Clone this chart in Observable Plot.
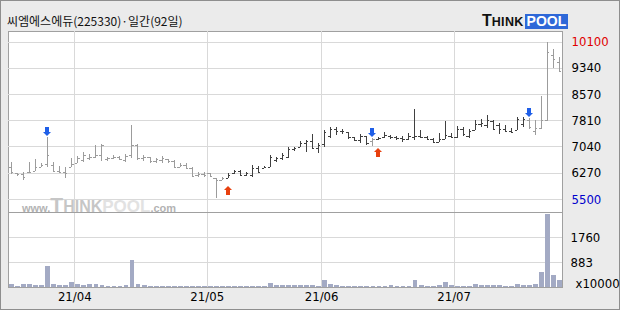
<!DOCTYPE html>
<html><head><meta charset="utf-8">
<script src="https://cdn.jsdelivr.net/npm/d3@7"></script>
<script src="https://cdn.jsdelivr.net/npm/@observablehq/plot@0.6"></script>
<style>
html,body{margin:0;padding:0;background:#fff;}
#wrap{position:relative;width:620px;height:310px;background:#ebebeb;box-shadow:inset 0 0 0 1px #8e8e8e;overflow:hidden;}
#title{position:absolute;left:7px;top:15px;font:12px/12px "Noto Sans CJK KR",sans-serif;color:#111;white-space:nowrap;}
#price,#volume{position:absolute;left:0;}
#price{top:31px}
#volume{top:212px}
#logo{position:absolute;left:482px;top:12px;height:16px;white-space:nowrap;font-family:"Liberation Sans",Arial,sans-serif;font-weight:bold;}
#logo .t{font-size:16px;color:#111;}
#logo .k{font-size:12.5px;color:#111;letter-spacing:0.3px;}
#logo .p{display:inline-block;font-size:14px;color:#fff;background:#2e68d8;padding:0 2px;line-height:15px;margin-left:1px;}
#wm{position:absolute;left:22px;top:193px;white-space:nowrap;font-family:"Liberation Sans",Arial,sans-serif;}
#wm .s{font-size:11px;color:#b3b3b3;font-weight:bold;}
#wm .t{font-size:21px;color:#c6c6c6;font-weight:bold;}
#wm .k{font-size:16px;color:#c6c6c6;font-weight:bold;}
#wm .p{font-size:17px;color:#e2e2e2;font-weight:bold;}
</style></head>
<body>
<div id="wrap">
  <div id="title">씨엠에스에듀(225330)·일간(92일)</div>
  <div id="logo"><span class="t">T</span><span class="k">HINK</span><span class="p">POOL</span></div>
  <div id="price"></div>
  <div id="volume"></div>
  <div id="wm"><span class="s">www.</span><span class="t">T</span><span class="k">HINK</span><span class="p">POOL</span><span class="s">.com</span></div>
</div>
<script>
// ---- data (prices in KRW, volume in x10000 shares) ----
const monthLabels = ["21/04", "21/05", "21/06", "21/07"];
const monthStartIdx = [11, 33, 52, 74];
const priceTicks = [5500, 6270, 7040, 7810, 8570, 9340, 10100];
const volumeTicks = [883, 1760];
const volumeUnit = "x10000";
const sellSignals = [6, 60, 86];
const buySignals = [36, 61];

const open = [6450,6260,6240,6280,6330,6450,6520,6500,6330,6280,6430,6540,6650,6700,6720,6800,6680,6700,6720,6650,
  6800,7090,6700,6720,6620,6640,6660,6620,6450,6500,6420,6200,6230,6250,6100,6060,6120,6250,6330,6200,
  6200,6420,6400,6440,6640,6700,6740,6960,7020,7150,7200,7000,7100,7350,7560,7480,7460,7300,7230,7330,
  7200,7250,7300,7330,7300,7280,7260,7300,7340,7300,7250,7180,7260,7350,7300,7550,7350,7520,7700,7650,
  7780,7650,7560,7480,7530,7700,7800,7500,7580,7800,9700,9500];
const high = [6570,6270,6300,6570,6660,6540,7300,6590,6470,6430,6690,6760,6860,6820,7080,7110,6740,6790,6760,6820,
  7660,7110,6790,6740,6690,6760,6660,6640,6540,6560,6430,6300,6300,6270,6110,6150,6250,6350,6350,6300,
  6490,6470,6470,6790,6740,6840,7010,7030,7200,7230,7400,7130,7520,7620,7600,7540,7470,7320,7400,7340,
  7270,7320,7470,7370,7340,7340,7440,8120,7520,7340,7270,7420,7790,7420,7640,7620,7540,7810,7830,7950,
  7810,7730,7660,7570,7910,7890,7860,7810,8510,10100,9880,9660];
const low = [6230,6180,6060,6270,6330,6450,6450,6300,6250,6110,6430,6540,6590,6640,6690,6620,6620,6660,6640,6580,
  6710,6640,6620,6540,6540,6560,6540,6420,6430,6390,6150,6150,6150,6130,5520,6060,6110,6230,6170,6170,
  6150,6250,6400,6430,6590,6640,6690,6910,7010,6880,6950,6840,7010,7270,7370,7400,7250,7210,7130,7080,
  7050,7230,7270,7250,7230,7180,7230,7230,7270,7230,7130,7180,7260,7270,7270,7340,7270,7520,7620,7570,
  7520,7400,7470,7420,7520,7620,7540,7370,7540,7790,9320,9220];
const close = [6280,6240,6130,6300,6430,6500,6780,6330,6280,6250,6520,6700,6790,6730,6800,7080,6700,6720,6680,6760,
  7080,6700,6720,6620,6660,6700,6600,6450,6480,6400,6180,6240,6200,6180,6050,6120,6200,6330,6200,6250,
  6420,6300,6440,6720,6700,6780,6960,7000,7150,7200,7000,7080,7460,7560,7480,7500,7300,7230,7350,7150,
  7250,7290,7360,7300,7290,7260,7330,7330,7300,7250,7180,7250,7360,7300,7550,7400,7500,7700,7720,7800,
  7560,7560,7500,7450,7850,7850,7600,7580,7800,9800,9580,9250];
const volume = [110,50,100,100,80,60,750,100,80,80,190,110,80,110,110,60,50,50,50,80,
  960,120,70,40,40,40,40,40,40,40,40,40,40,40,40,40,40,40,40,40,
  40,40,40,130,60,70,70,60,60,60,60,50,235,110,70,45,45,45,45,45,
  45,45,45,80,45,45,45,260,80,45,45,80,165,80,45,45,45,110,80,80,
  80,80,45,45,110,80,70,100,518,2590,435,235];

// ---- derived rows ----
const signals = [...sellSignals.map(i => ({i, t: "sell"})), ...buySignals.map(i => ({i, t: "buy"}))].sort((a, b) => a.i - b.i);
const stateAt = i => { let s = "sell"; for (const g of signals) if (g.i <= i) s = g.t; return s; };
const bars = open.map((o, i) => ({i, o, h: high[i], l: low[i], c: close[i], up: stateAt(i) === "buy"}));
const N = open.length;

const numFont = '"Liberation Sans Narrow","DejaVu Sans Condensed","Liberation Sans",sans-serif';
const GRID = "#d9d9d9", BORDER = "#a0a0a0", DARK = "#404040", LIGHT = "#9c9c9c";
const str = d => String(d);

function barMarks(rows, color) {
  return [
    Plot.ruleX(rows, {x: d => d.i + 0.5, y1: "l", y2: "h", stroke: color, shapeRendering: "crispEdges"}),
    Plot.ruleY(rows, {x1: d => d.i + 0.12, x2: d => d.i + 0.5, y: "o", stroke: color, shapeRendering: "crispEdges"}),
    Plot.ruleY(rows, {x1: d => d.i + 0.5, x2: d => d.i + 0.88, y: "c", stroke: color, shapeRendering: "crispEdges"})
  ];
}

function arrows(index, scales) {
  const g = d3.create("svg:g");
  for (const i of sellSignals) {
    const cx = Math.round(scales.x(i + 0.5)), ty = Math.round(scales.y(high[i])) - 1;
    g.append("path").attr("fill", "#1f5fe8")
      .attr("d", `M${cx-2},${ty-9}h4v5h2l-4,4l-4,-4h2z`);
  }
  for (const i of buySignals) {
    const cx = Math.round(scales.x(i + 0.5)), ty = Math.round(scales.y(low[i])) + 8;
    g.append("path").attr("fill", "#e8400e")
      .attr("d", `M${cx},${ty}l4,4h-2v5h-4v-5h-2z`);
  }
  return g.node();
}

const price = Plot.plot({
  width: 620, height: 181,
  marginLeft: 8, marginRight: 58, marginTop: 0, marginBottom: 0,
  x: {domain: [0, N], axis: null},
  y: {domain: [5120, 10413], axis: null},
  style: {background: "transparent", fontFamily: numFont, fontSize: "13px", overflow: "visible"},
  marks: [
    Plot.frame({fill: "white", stroke: BORDER}),
    Plot.ruleY(priceTicks, {stroke: GRID, shapeRendering: "crispEdges"}),
    Plot.ruleX(monthStartIdx, {stroke: GRID, shapeRendering: "crispEdges"}),
    ...barMarks(bars.filter(d => !d.up), LIGHT),
    ...barMarks(bars.filter(d => d.up), DARK),
    arrows,
    Plot.text(priceTicks.slice(1, -1), {y: d => d, text: str, frameAnchor: "right", dx: 9, textAnchor: "start", fill: "#000"}),
    Plot.text(priceTicks.slice(-1), {y: d => d, text: str, frameAnchor: "right", dx: 9, textAnchor: "start", fill: "#e00000"}),
    Plot.text(priceTicks.slice(0, 1), {y: d => d, text: str, frameAnchor: "right", dx: 9, textAnchor: "start", fill: "#0000cc"})
  ]
});
document.getElementById("price").appendChild(price);

const vol = Plot.plot({
  width: 620, height: 98,
  marginLeft: 8, marginRight: 58, marginTop: 0, marginBottom: 23,
  x: {domain: [0, N], axis: null},
  y: {domain: [0, 2650], axis: null},
  style: {background: "transparent", fontFamily: numFont, fontSize: "13px", overflow: "visible"},
  marks: [
    Plot.frame({fill: "white", stroke: BORDER}),
    Plot.ruleY(volumeTicks, {stroke: GRID, shapeRendering: "crispEdges"}),
    Plot.ruleX(monthStartIdx, {stroke: GRID, shapeRendering: "crispEdges"}),
    Plot.rectY(volume, {x1: (d, i) => i, x2: (d, i) => i + 1, y: d => d, insetLeft: 1.2, fill: "#a3aac4", shapeRendering: "crispEdges"}),
    Plot.frame({stroke: BORDER}),
    Plot.text(volumeTicks, {y: d => d, text: str, frameAnchor: "right", dx: 8, textAnchor: "start", fill: "#000"}),
    Plot.text([volumeUnit], {text: str, frameAnchor: "bottom-right", dx: 13, textAnchor: "start", fill: "#000"}),
    Plot.text(monthStartIdx, {x: d => d, frameAnchor: "bottom", dy: 13, text: (d, i) => monthLabels[i], fill: "#000"})
  ]
});
document.getElementById("volume").appendChild(vol);
</script>
</body></html>
